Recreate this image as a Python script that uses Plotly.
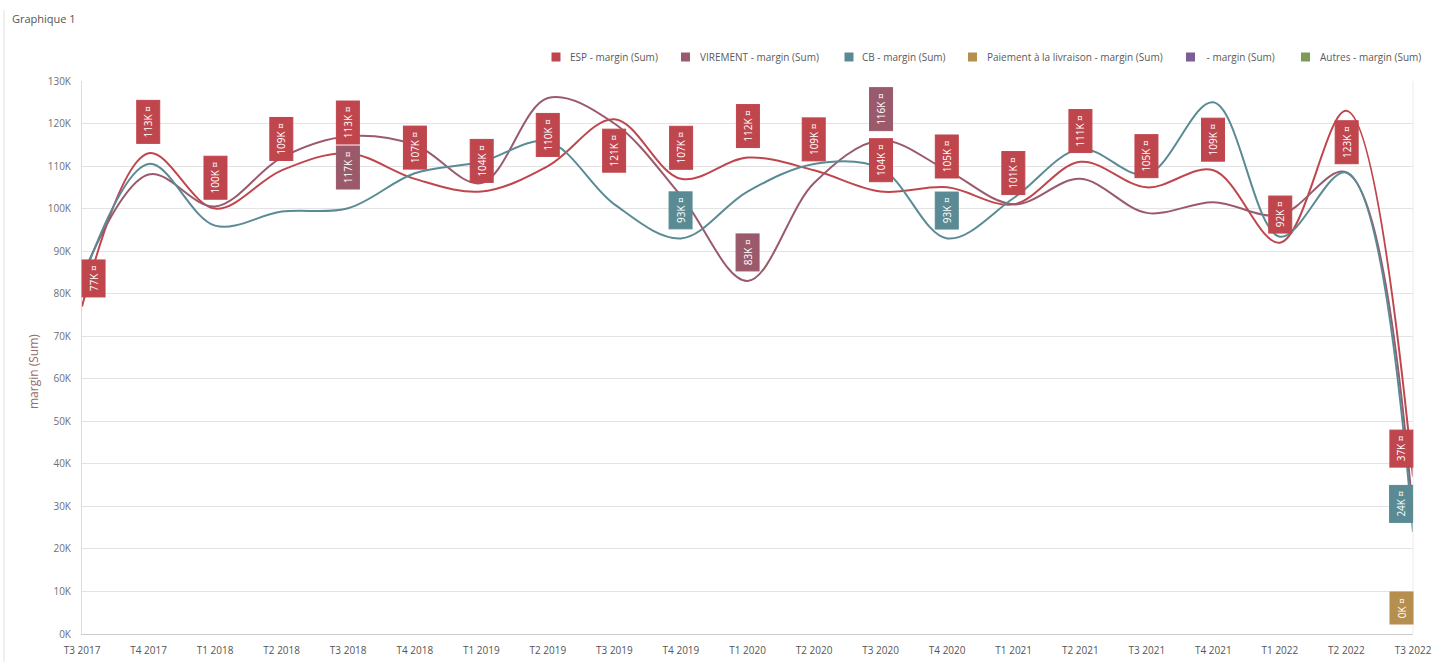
import plotly.graph_objects as go

# Quarterly margin totals (in thousands) per payment method
quarters = ["T3 2017", "T4 2017", "T1 2018", "T2 2018", "T3 2018", "T4 2018", "T1 2019",
            "T2 2019", "T3 2019", "T4 2019", "T1 2020", "T2 2020", "T3 2020", "T4 2020",
            "T1 2021", "T2 2021", "T3 2021", "T4 2021", "T1 2022", "T2 2022", "T3 2022"]

esp = [77, 113, 100, 109, 113, 107, 104, 110, 121, 107, 112, 109, 104, 105, 101, 111,
       105, 109, 92, 123, 37]
virement = [84, 108, 100.5, 112, 117, 115, 106, 126, 120, 103, 83, 106, 116, 109, 101,
            107, 99, 101.5, 98.5, 108.5, 28]
cb = [83, 110.5, 96, 99.3, 100.1, 108.3, 111, 115.7, 101, 93, 104, 110.5, 109.5, 93,
      102.5, 114, 108, 125, 93.4, 108.5, 24]
paiement = [None] * 20 + [0]
vide = [None] * 21
autres = [None] * 21

series_names = ["ESP - margin (Sum)", "VIREMENT - margin (Sum)", "CB - margin (Sum)",
                "Paiement à la livraison - margin (Sum)", "\u00a0- margin (Sum)",
                "Autres - margin (Sum)"]

y_ticks = list(range(0, 131, 10))
y_tick_text = [f"{v}K" for v in y_ticks]

# Which points carry a value badge (index list per series)
esp_labels = list(range(21))
virement_labels = [4, 10, 12]
cb_labels = [9, 13, 20]
paiement_labels = [20]

colors = ["#c0464e", "#9a5a6c", "#5a8b94", "#b68e50", "#7b5e96", "#7e9a59"]
all_series = [esp, virement, cb, paiement, vide, autres]
all_labels = [esp_labels, virement_labels, cb_labels, paiement_labels, [], []]
below = {(0, 8), (0, 19), (1, 4)}  # badges drawn under their point

W, H = 1446, 662
L, R, T, B = 82, 1413, 81, 634


def px(x):
    return (x - L) / (R - L)


def py(y):
    return (B - y) / (B - T)


fig = go.Figure()

for vals, col in zip(all_series, colors):
    fig.add_trace(go.Scatter(
        x=quarters, y=vals, mode="lines",
        line=dict(color=col, width=2, shape="spline", smoothing=1.0),
        showlegend=False, hoverinfo="skip", connectgaps=False,
    ))

annotations = []
for si, (vals, idxs, col) in enumerate(zip(all_series, all_labels, colors)):
    for i in idxs:
        v = vals[i]
        xa = "center"
        if i == 0:
            xa = "left"
        elif i == len(quarters) - 1:
            xa = "right"
        is_below = (si, i) in below
        annotations.append(dict(
            x=quarters[i], y=v, xref="x", yref="y",
            text=f"\u202f{round(v)}K ¤\u202f", textangle=-90, showarrow=False,
            font=dict(family="Open Sans", size=10, color="white"),
            bgcolor=col, bordercolor=col, borderwidth=1, borderpad=4,
            xanchor=xa, yanchor="top" if is_below else "bottom",
            yshift=-9 if is_below else 9,
        ))

# Title and y-axis caption
annotations.append(dict(
    x=px(10), y=py(18), xref="paper", yref="paper", text="Graphique 1",
    showarrow=False, xanchor="left", yanchor="middle",
    font=dict(family="Open Sans", size=11, color="#555555"),
))
annotations.append(dict(
    x=px(33), y=py(372), xref="paper", yref="paper", text="margin (Sum)",
    showarrow=False, textangle=-90, xanchor="center", yanchor="middle",
    font=dict(family="Open Sans", size=12, color="#976a69"),
))

# Legend drawn as colored squares with captions
legend_pos = [(556, 568), (685.5, 698), (849, 860), (972.5, 985), (1190.5, 1202), (1305.5, 1318)]
shapes = []
leg_y = 57
for (sx, tx), name, col in zip(legend_pos, series_names, colors):
    shapes.append(dict(type="rect", xref="paper", yref="paper",
                       x0=px(sx - 4.5), x1=px(sx + 4.5), y0=py(leg_y + 4.5), y1=py(leg_y - 4.5),
                       fillcolor=col, line=dict(width=0)))
    annotations.append(dict(
        x=px(tx), y=py(leg_y), xref="paper", yref="paper", text=name,
        showarrow=False, xanchor="left", yanchor="middle",
        font=dict(family="Open Sans", size=10, color="#5a5a5a"),
    ))

# Container edge and right border of the plotting area
shapes.append(dict(type="line", xref="paper", yref="paper",
                   x0=px(4), x1=px(4), y0=py(10), y1=py(662),
                   line=dict(color="#e2e2e2", width=1)))
shapes.append(dict(type="line", xref="paper", yref="paper",
                   x0=1, x1=1, y0=0, y1=1, line=dict(color="#ececec", width=1)))

fig.update_layout(
    width=W, height=H,
    margin=dict(l=L, r=W - R, t=T, b=H - B, autoexpand=False),
    paper_bgcolor="white", plot_bgcolor="white",
    showlegend=False,
    annotations=annotations, shapes=shapes,
    font=dict(family="Open Sans", size=10, color="#666666"),
)
fig.update_xaxes(
    type="category", range=[0, len(quarters) - 1], automargin=False,
    showgrid=False, showline=True, linecolor="#cccccc", linewidth=1,
    ticks="", tickfont=dict(family="Open Sans", size=10, color="#555555"),
    ticklabelstandoff=7, fixedrange=True,
)
fig.update_yaxes(
    range=[0, 130], tickmode="array", tickvals=y_ticks, ticktext=y_tick_text,
    automargin=False,
    showgrid=True, gridcolor="#e3e3e3", gridwidth=1,
    showline=True, linecolor="#dddddd", linewidth=1, zeroline=False,
    ticks="", tickfont=dict(family="Open Sans", size=10, color="#707070"),
    ticklabelstandoff=8, fixedrange=True,
)

fig.write_html("out.html")
